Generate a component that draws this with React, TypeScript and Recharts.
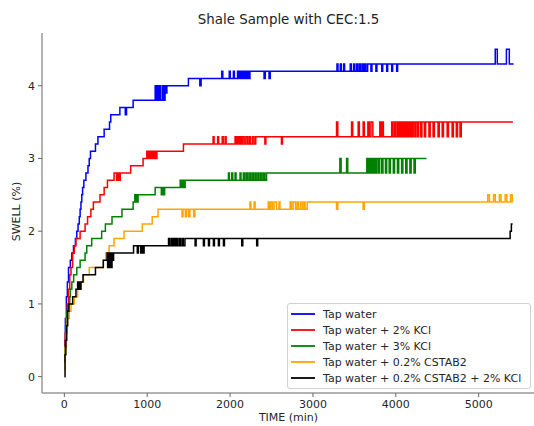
import React from "react";
import { LineChart, Line, XAxis, YAxis } from "recharts";

// [time (min), swell (%)] change points
const tapWater: [number, number][] = [
  [0, 0.2], [6, 0.5], [12, 0.8], [24, 1.1], [36, 1.3], [50, 1.5], [72, 1.6], [90, 1.7], [110, 1.8],
  [133, 1.9], [150, 2.0], [165, 2.1], [180, 2.2], [190, 2.3], [200, 2.4], [210, 2.5], [220, 2.6],
  [235, 2.7], [260, 2.8], [285, 2.9], [300, 3.0], [315, 3.1], [375, 3.2], [405, 3.3], [480, 3.4],
  [545, 3.5], [560, 3.6], [670, 3.7], [735, 3.6], [750, 3.7], [830, 3.8],
  [1096, 4.0], [1106, 3.8], [1120, 4.0], [1132, 3.8], [1150, 4.0], [1162, 3.8], [1185, 4.0],
  [1197, 3.8], [1215, 4.0], [1225, 3.9], [1237, 4.0], [1497, 4.1], [1635, 4.0], [1650, 4.1],
  [1900, 4.2], [1912, 4.1], [1990, 4.2], [2002, 4.1], [2040, 4.2], [2052, 4.1], [2090, 4.2],
  [2105, 4.1], [2120, 4.2], [2135, 4.1], [2150, 4.2], [2165, 4.1], [2180, 4.2], [2195, 4.1],
  [2210, 4.2], [2225, 4.1], [2240, 4.2], [2410, 4.1], [2425, 4.2], [2470, 4.1], [2485, 4.2],
  [3290, 4.3], [3302, 4.2], [3330, 4.3], [3342, 4.2], [3370, 4.3], [3382, 4.2], [3450, 4.3],
  [3462, 4.2], [3490, 4.3], [3502, 4.2], [3525, 4.3], [3540, 4.2], [3560, 4.3], [3575, 4.2],
  [3595, 4.3], [3610, 4.2], [3625, 4.3], [3640, 4.2], [3660, 4.3], [3700, 4.2], [3712, 4.3],
  [3760, 4.2], [3772, 4.3], [3830, 4.2], [3842, 4.3], [3890, 4.2], [3902, 4.3], [3950, 4.2],
  [3962, 4.3], [4010, 4.2], [4022, 4.3], [5200, 4.5], [5225, 4.3], [5335, 4.5], [5370, 4.3],
  [5422, 4.3],
];

const kcl2: [number, number][] = [
  [0, 0.3], [10, 0.6], [20, 0.8], [35, 1.0], [50, 1.2], [65, 1.4], [80, 1.5], [100, 1.7],
  [120, 1.8], [140, 1.9], [190, 2.0], [250, 2.1], [280, 2.2], [320, 2.3], [350, 2.4], [430, 2.5],
  [480, 2.6], [520, 2.7], [600, 2.8], [630, 2.7], [645, 2.8], [660, 2.7], [675, 2.8], [800, 2.9],
  [950, 3.0], [995, 3.1], [1005, 3.0], [1015, 3.1], [1025, 3.0], [1035, 3.1], [1045, 3.0],
  [1055, 3.1], [1065, 3.0], [1075, 3.1], [1085, 3.0], [1095, 3.1], [1105, 3.0], [1117, 3.1],
  [1437, 3.2], [1795, 3.3], [1807, 3.2], [1850, 3.3], [1862, 3.2], [1905, 3.3], [1917, 3.2],
  [1940, 3.3], [1952, 3.2], [2060, 3.3], [2075, 3.2], [2090, 3.3], [2105, 3.2], [2120, 3.3],
  [2135, 3.2], [2150, 3.3], [2170, 3.2], [2190, 3.3], [2210, 3.2], [2230, 3.3], [2245, 3.2],
  [2270, 3.3], [2290, 3.2], [2310, 3.3], [2420, 3.2], [2432, 3.3], [2620, 3.2], [2632, 3.3],
  [3285, 3.5], [3300, 3.3], [3466, 3.5], [3480, 3.3], [3546, 3.5], [3560, 3.3], [3606, 3.5],
  [3620, 3.3], [3663, 3.5], [3680, 3.3], [3700, 3.5], [3723, 3.3], [3807, 3.5], [3825, 3.3],
  [3835, 3.5], [3850, 3.3], [3950, 3.5], [3965, 3.3], [3985, 3.5], [4000, 3.3], [4020, 3.5],
  [4035, 3.3], [4050, 3.5], [4065, 3.3], [4080, 3.5], [4092, 3.3], [4105, 3.5], [4118, 3.3],
  [4130, 3.5], [4142, 3.3], [4155, 3.5], [4168, 3.3], [4180, 3.5], [4195, 3.3], [4210, 3.5],
  [4230, 3.3], [4240, 3.5], [4260, 3.3], [4275, 3.5], [4300, 3.3], [4315, 3.5], [4345, 3.3],
  [4360, 3.5], [4400, 3.3], [4415, 3.5], [4450, 3.3], [4465, 3.5], [4510, 3.3], [4525, 3.5],
  [4560, 3.3], [4575, 3.5], [4620, 3.3], [4635, 3.5], [4680, 3.3], [4695, 3.5], [4730, 3.3],
  [4745, 3.5], [4775, 3.3], [4790, 3.5], [5413, 3.5],
];

const kcl3: [number, number][] = [
  [0, 0.2], [6, 0.4], [15, 0.7], [30, 0.9], [50, 1.0], [65, 1.1], [72, 1.2], [90, 1.3],
  [112, 1.4], [150, 1.5], [190, 1.6], [250, 1.7], [270, 1.8], [330, 1.9], [450, 2.0], [495, 2.1],
  [575, 2.2], [695, 2.3], [830, 2.4], [850, 2.5], [860, 2.4], [870, 2.5], [880, 2.4], [890, 2.5],
  [1096, 2.6], [1170, 2.5], [1180, 2.6], [1195, 2.5], [1210, 2.6], [1398, 2.7], [1410, 2.6],
  [1425, 2.7], [1440, 2.6], [1458, 2.7], [1980, 2.8], [1992, 2.7], [2020, 2.8], [2032, 2.7],
  [2060, 2.8], [2072, 2.7], [2120, 2.8], [2132, 2.7], [2160, 2.8], [2175, 2.7], [2195, 2.8],
  [2210, 2.7], [2230, 2.8], [2245, 2.7], [2265, 2.8], [2280, 2.7], [2300, 2.8], [2315, 2.7],
  [2335, 2.8], [2350, 2.7], [2370, 2.8], [2385, 2.7], [2405, 2.8], [2420, 2.7], [2440, 2.8],
  [3325, 3.0], [3340, 2.8], [3406, 3.0], [3420, 2.8], [3650, 3.0], [3665, 2.8], [3680, 3.0],
  [3695, 2.8], [3710, 3.0], [3725, 2.8], [3740, 3.0], [3755, 2.8], [3770, 3.0], [3790, 2.8],
  [3805, 3.0], [3830, 2.8], [3845, 3.0], [3875, 2.8], [3890, 3.0], [3920, 2.8], [3935, 3.0],
  [3970, 2.8], [3985, 3.0], [4020, 2.8], [4035, 3.0], [4070, 2.8], [4085, 3.0], [4120, 2.8],
  [4135, 3.0], [4170, 2.8], [4185, 3.0], [4220, 2.8], [4235, 3.0], [4370, 3.0],
];

const cstab: [number, number][] = [
  [0, 0.1], [10, 0.4], [25, 0.6], [35, 0.8], [60, 0.9], [80, 1.0], [120, 1.1], [160, 1.2],
  [200, 1.3], [230, 1.4], [300, 1.5], [470, 1.6], [500, 1.7], [540, 1.8], [600, 1.9], [720, 2.0],
  [940, 2.1], [1060, 2.2], [1130, 2.3], [1420, 2.2], [1432, 2.3], [1460, 2.2], [1475, 2.3],
  [1500, 2.2], [1515, 2.3], [1560, 2.2], [1575, 2.3], [2240, 2.4], [2252, 2.3], [2290, 2.4],
  [2302, 2.3], [2460, 2.4], [2475, 2.3], [2490, 2.4], [2510, 2.3], [2530, 2.4], [2560, 2.3],
  [2590, 2.4], [2602, 2.3], [2725, 2.4], [2740, 2.3], [2760, 2.4], [2790, 2.3], [2810, 2.4],
  [2825, 2.3], [2850, 2.4], [2870, 2.3], [2890, 2.4], [2905, 2.3], [2930, 2.4], [3285, 2.3],
  [3300, 2.4], [3606, 2.3], [3620, 2.4], [5110, 2.5], [5130, 2.4], [5180, 2.5], [5200, 2.4],
  [5250, 2.5], [5270, 2.4], [5320, 2.5], [5340, 2.4], [5385, 2.5], [5405, 2.4], [5410, 2.4],
];

const cstabKcl: [number, number][] = [
  [0, 0.0], [8, 0.3], [18, 0.5], [28, 0.7], [40, 0.9], [55, 1.0], [100, 1.1], [140, 1.2],
  [160, 1.3], [170, 1.2], [180, 1.3], [190, 1.2], [200, 1.3], [225, 1.4], [375, 1.5], [470, 1.6],
  [515, 1.7], [522, 1.5], [530, 1.7], [537, 1.5], [545, 1.7], [552, 1.5], [560, 1.7], [567, 1.5],
  [575, 1.7], [582, 1.6], [594, 1.7], [835, 1.8], [880, 1.7], [892, 1.8], [920, 1.7], [932, 1.8],
  [950, 1.7], [962, 1.8], [1257, 1.9], [1270, 1.8], [1290, 1.9], [1305, 1.8], [1320, 1.9],
  [1335, 1.8], [1350, 1.9], [1365, 1.8], [1385, 1.9], [1400, 1.8], [1420, 1.9], [1435, 1.8],
  [1455, 1.9], [1578, 1.8], [1590, 1.9], [1678, 1.8], [1690, 1.9], [1739, 1.8], [1751, 1.9],
  [1799, 1.8], [1811, 1.9], [1859, 1.8], [1871, 1.9], [1920, 1.8], [1932, 1.9], [2141, 1.8],
  [2153, 1.9], [2321, 1.8], [2333, 1.9], [5380, 2.0], [5395, 2.1], [5410, 2.1],
];

const xTicks = [0, 1000, 2000, 3000, 4000, 5000];
const yTicks = [0, 1, 2, 3, 4];

const series = [
  { name: "Tap water", color: "#0000ff", points: tapWater },
  { name: "Tap water + 2% KCl", color: "#ff0000", points: kcl2 },
  { name: "Tap water + 3% KCl", color: "#008000", points: kcl3 },
  { name: "Tap water + 0.2% CSTAB2", color: "#ffa500", points: cstab },
  { name: "Tap water + 0.2% CSTAB2 + 2% KCl", color: "#000000", points: cstabKcl },
];

const font = "'DejaVu Sans', sans-serif";
const tickStyle = { fontSize: 11, fill: "#262626", fontFamily: font };
const axisColor = "#666";

export default function App() {
  return (
    <div style={{ position: "absolute", left: 0, top: 0, width: 534, height: 426, overflow: "hidden", background: "#fff", fontFamily: font }}>
      <LineChart width={545} height={426} margin={{ top: 33, right: 10, bottom: 0, left: 0 }}>
        <XAxis
          dataKey="t"
          type="number"
          domain={[-270, 5680]}
          ticks={xTicks}
          allowDataOverflow
          height={33}
          tickSize={4}
          tickMargin={3}
          tick={tickStyle}
          stroke={axisColor}
        />
        <XAxis
          xAxisId="top"
          orientation="top"
          type="number"
          domain={[-270, 5680]}
          height={0}
          tick={false}
          tickLine={false}
          stroke={axisColor}
        />
        <YAxis
          type="number"
          domain={[-0.225, 4.725]}
          ticks={yTicks}
          allowDataOverflow
          width={42}
          tickSize={4}
          tickMargin={3}
          tick={tickStyle}
          stroke={axisColor}
        />
        {series.map((s) => (
          <Line
            key={s.name}
            name={s.name}
            data={s.points.map(([t, v]) => ({ t, v }))}
            dataKey="v"
            type="stepAfter"
            stroke={s.color}
            strokeWidth={1.5}
            dot={false}
            activeDot={false}
            isAnimationActive={false}
          />
        ))}
      </LineChart>

      <div style={{ position: "absolute", left: 42, width: 493, top: 12, textAlign: "center", fontSize: 13.4, lineHeight: "16px", color: "#222" }}>
        Shale Sample with CEC:1.5
      </div>
      <div style={{ position: "absolute", left: 42, width: 493, top: 411, textAlign: "center", fontSize: 11, lineHeight: "13px", color: "#262626" }}>
        TIME (min)
      </div>
      <div
        style={{
          position: "absolute", left: 16, top: 211, width: 100, marginLeft: -50, marginTop: -6.5,
          textAlign: "center", fontSize: 11, lineHeight: "13px", color: "#262626", transform: "rotate(-90deg)",
        }}
      >
        SWELL (%)
      </div>

      <div
        style={{
          position: "absolute", left: 287, top: 303, width: 244, height: 86, boxSizing: "border-box",
          border: "1px solid #d0d0d0", borderRadius: 3, background: "rgba(255,255,255,0.8)",
        }}
      >
        {series.map((s, i) => (
          <div key={s.name} style={{ position: "absolute", left: 0, top: 2 + i * 16, height: 16, display: "flex", alignItems: "center" }}>
            <svg width={27} height={4} style={{ display: "block" }}>
              <line x1={3} x2={27} y1={2} y2={2} stroke={s.color} strokeWidth={1.8} />
            </svg>
            <span style={{ marginLeft: 8, fontSize: 11, color: "#262626", whiteSpace: "nowrap" }}>{s.name}</span>
          </div>
        ))}
      </div>
    </div>
  );
}
